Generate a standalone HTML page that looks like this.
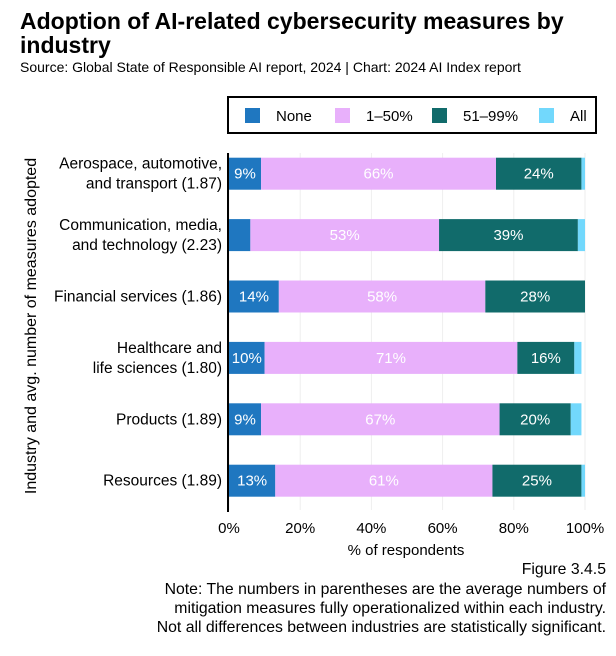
<!DOCTYPE html>
<html><head><meta charset="utf-8"><style>
body{margin:0;background:#fff;font-family:"Liberation Sans",sans-serif;}
svg text{font-family:"Liberation Sans",sans-serif;}
</style></head><body>
<svg id="chart" width="616" height="651" xmlns="http://www.w3.org/2000/svg">
<text x="20" y="29" font-size="23" font-weight="bold" fill="#000">Adoption of AI-related cybersecurity measures by</text>
<text x="20" y="53" font-size="23" font-weight="bold" fill="#000">industry</text>
<text x="20" y="72" font-size="14" fill="#000">Source: Global State of Responsible AI report, 2024 | Chart: 2024 AI Index report</text>
<g font-size="15">
<rect x="228" y="97" width="368" height="36" fill="#fff" stroke="#000" stroke-width="2"/>
<rect x="245" y="108" width="15" height="15" fill="#1f77c0"/><text x="276" y="121">None</text>
<rect x="335" y="108" width="15" height="15" fill="#e8b0fb"/><text x="366" y="121">1–50%</text>
<rect x="432" y="108" width="15" height="15" fill="#116b6b"/><text x="463" y="121">51–99%</text>
<rect x="539" y="108" width="15" height="15" fill="#72d8fc"/><text x="570" y="121">All</text>
</g>
<g id="grid"></g><g id="bars"></g><g id="axes"></g>
<text x="406" y="555" font-size="15" text-anchor="middle">% of respondents</text>
<text transform="translate(36,326) rotate(-90)" font-size="16" text-anchor="middle">Industry and avg. number of measures adopted</text>
<g font-size="15.8" text-anchor="end" fill="#000">
<text x="606" y="574">Figure 3.4.5</text>
<text x="606" y="594">Note: The numbers in parentheses are the average numbers of</text>
<text x="606" y="613">mitigation measures fully operationalized within each industry.</text>
<text x="606" y="632">Not all differences between industries are statistically significant.</text>
</g>
</svg>
<script>
const categories=[["Aerospace, automotive,","and transport (1.87)"],["Communication, media,","and technology (2.23)"],["Financial services (1.86)"],["Healthcare and","life sciences (1.80)"],["Products (1.89)"],["Resources (1.89)"]];
const noneVals=[9,6,14,10,9,13];
const lowVals=[66,53,58,71,67,61];
const highVals=[24,39,28,16,20,25];
const allVals=[1,2,0,2,3,1];
const xTicks=[0,20,40,60,80,100];
const NS="http://www.w3.org/2000/svg";
const x0=229,x1=585,yTop=143,rowH=61.4,barH=32;
const xs=v=>x0+(x1-x0)*v/100;
const yc=i=>yTop+rowH*(i+0.5);
function mk(t,a,p){const e=document.createElementNS(NS,t);for(const k in a)e.setAttribute(k,a[k]);p.appendChild(e);return e;}
const grid=document.getElementById('grid'),bars=document.getElementById('bars'),axes=document.getElementById('axes');
xTicks.forEach(t=>{
 const l=mk('line',{x1:xs(t),x2:xs(t),y1:yTop+10,y2:510,stroke:'#eee'},grid);
 
 
 const tx=mk('text',{x:xs(t),y:533,'font-size':15,'text-anchor':'middle'},axes);
 tx.textContent=t+'%';
 
 
});
const ax=mk('line',{x1:x0-1,x2:x0-1,y1:yTop+10,y2:512,stroke:'#000','stroke-width':2},axes);


const series=[[noneVals,'#1f77c0','none'],[lowVals,'#e8b0fb','1-50'],[highVals,'#116b6b','51-99'],[allVals,'#72d8fc','all']];
categories.forEach((c,i)=>{
 let acc=0;const y=yc(i);
 series.forEach(([arr,col,nm])=>{
  const v=arr[i];
  const r=mk('rect',{x:xs(acc),y:y-barH/2,width:xs(acc+v)-xs(acc),height:barH,fill:col},bars);
  
  
  if(nm!=='all' && v>=9){
   const t=mk('text',{x:(xs(acc)+xs(acc+v))/2,y:y+5,'font-size':15,'text-anchor':'middle',fill:'#fff'},bars);
   t.textContent=v+'%';
   
   
  }
  acc+=v;
 });
 const n=c.length;
 c.forEach((line,j)=>{
  const t=mk('text',{x:222,y:y+5+(j-(n-1)/2)*20,'font-size':15.5,'text-anchor':'end'},axes);
  t.textContent=line;
  
  
 });
});
</script>
</body></html>
